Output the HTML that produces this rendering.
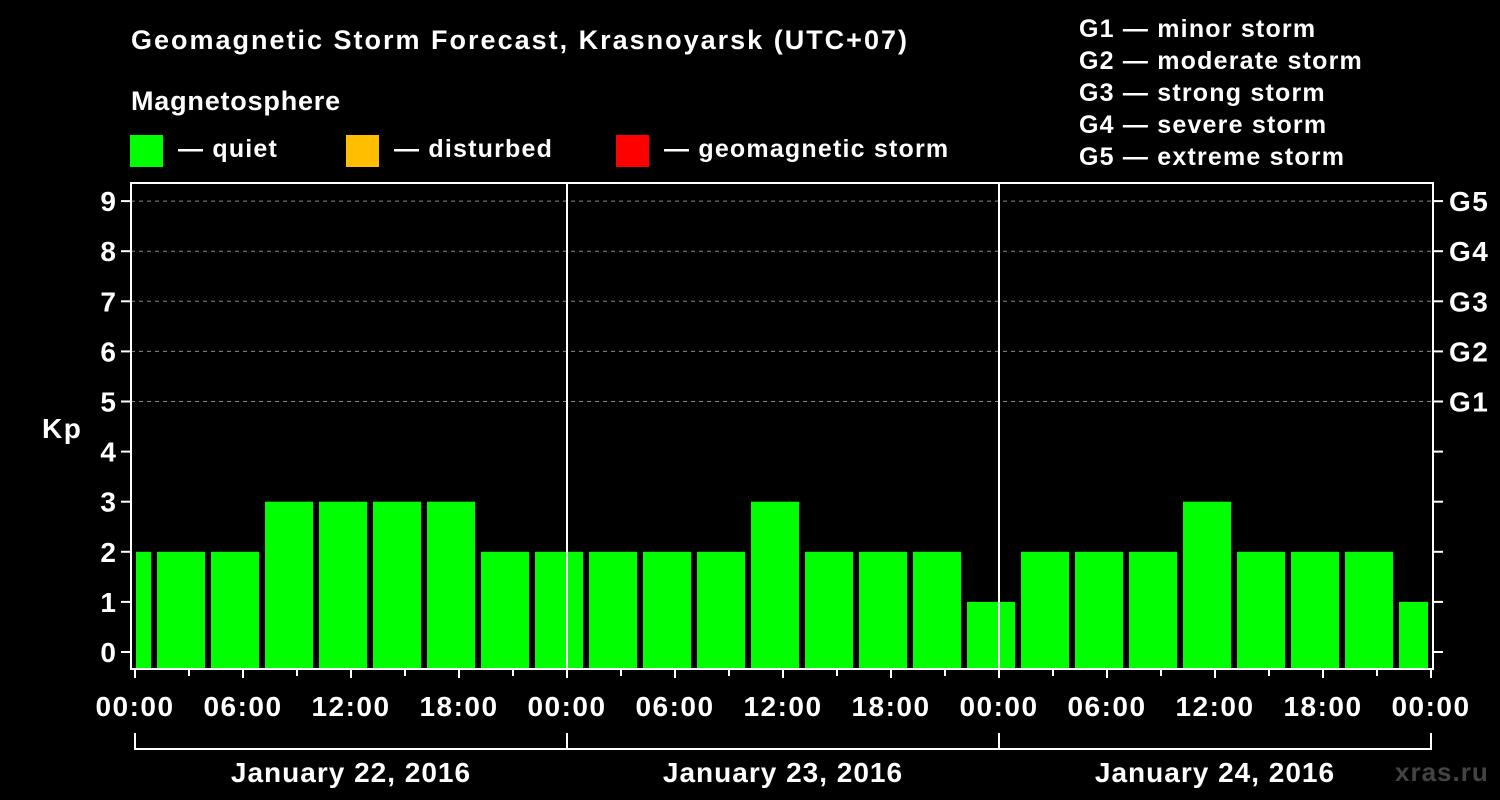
<!DOCTYPE html>
<html><head><meta charset="utf-8"><style>
html,body{margin:0;padding:0;background:#000;}
svg{display:block;font-family:"Liberation Sans",Arial,sans-serif;font-weight:bold;}
</style></head><body>
<svg id="chart" width="1500" height="800" viewBox="0 0 1500 800">
<rect x="0" y="0" width="1500" height="800" fill="#000"/>
<text x="131" y="49" fill="#fff" font-size="27" letter-spacing="2">Geomagnetic Storm Forecast, Krasnoyarsk (UTC+07)</text>
<text x="131" y="110" fill="#fff" font-size="27" letter-spacing="0.8">Magnetosphere</text>
<g><rect x="130" y="135" width="33" height="32" fill="#00ff00"/><text x="178" y="157" fill="#fff" font-size="25" letter-spacing="1.2">— quiet</text></g>
<g><rect x="346" y="135" width="33" height="32" fill="#ffbf00"/><text x="394" y="157" fill="#fff" font-size="25" letter-spacing="1.2">— disturbed</text></g>
<g><rect x="616" y="135" width="33" height="32" fill="#ff0000"/><text x="664" y="157" fill="#fff" font-size="25" letter-spacing="1.2">— geomagnetic storm</text></g>
<g fill="#fff" font-size="25" letter-spacing="1.2">
<text x="1079" y="37">G1 — minor storm</text>
<text x="1079" y="69">G2 — moderate storm</text>
<text x="1079" y="101">G3 — strong storm</text>
<text x="1079" y="133">G4 — severe storm</text>
<text x="1079" y="165">G5 — extreme storm</text>
</g>
<g id="grid"></g>
<g id="bars"></g>
<g id="axes"></g>
<text x="1395" y="781" fill="#444" font-size="26" letter-spacing="1">xras.ru</text>
</svg>
<script>
const kpValues = [2,2,2,3,3,3,3,2,2,2,2,2,3,2,2,2,1,2,2,2,3,2,2,2,1];
const yTicks = [0,1,2,3,4,5,6,7,8,9];
const gLabels = ["G1","G2","G3","G4","G5"];
const gLevels = [5,6,7,8,9];
const xTickLabels = ["00:00","06:00","12:00","18:00","00:00","06:00","12:00","18:00","00:00","06:00","12:00","18:00","00:00"];
const dayLabels = ["January 22, 2016","January 23, 2016","January 24, 2016"];

const NS="http://www.w3.org/2000/svg";
const L=131,R=1433,T=183,B=669,X0=135,PX_H=18;
const y=v=>652-v*50.1;
const x=h=>X0+h*PX_H;
function mk(tag,attrs,parent,txt){const e=document.createElementNS(NS,tag);for(const k in attrs)e.setAttribute(k,attrs[k]);if(txt!==undefined)e.textContent=txt;parent.appendChild(e);return e;}
const grid=document.getElementById('grid'),bars=document.getElementById('bars'),axes=document.getElementById('axes');

gLevels.forEach((g,i)=>{
  const gl=mk('line',{x1:L,x2:R,y1:y(g),y2:y(g),stroke:'#888','stroke-dasharray':'4,4','stroke-width':1},grid);
  
  
  const t=mk('text',{x:1449,y:y(g)+10,fill:'#fff','font-size':28,'letter-spacing':1.5},axes,gLabels[i]);
  
  
});
const defs=mk('defs',{},bars);const cp=mk('clipPath',{id:'pc'},defs);mk('rect',{x:L+5,y:T,width:R-L-10,height:B-T},cp);
const bg=mk('g',{'clip-path':'url(#pc)'},bars);
kpValues.forEach((v,i)=>{
  const h0=-1.778+3*i;
  const col=v>=5?'#ff0000':(v>=4?'#ffbf00':'#00ff00');
  const r=mk('rect',{x:x(h0),y:y(v),width:48,height:B-1-y(v),fill:col},bg);
  
  
});
[1,2].forEach(d=>{const l=mk('line',{x1:x(24*d),x2:x(24*d),y1:T,y2:B,stroke:'#fff','stroke-width':2},axes);
  
  });
const fr=mk('rect',{x:L,y:T,width:R-L,height:B-T,fill:'none',stroke:'#fff','stroke-width':2},axes);


yTicks.forEach(v=>{
  mk('line',{x1:121,x2:L,y1:y(v),y2:y(v),stroke:'#fff','stroke-width':2},axes);
  mk('line',{x1:R,x2:R+10,y1:y(v),y2:y(v),stroke:'#fff','stroke-width':2},axes);
  const t=mk('text',{x:116,y:y(v)+10,fill:'#fff','font-size':28,'text-anchor':'end'},axes,String(v));
  
  
});
const kp=mk('text',{x:42,y:438,fill:'#fff','font-size':28,'letter-spacing':1.5},axes,'Kp');


for(let h=0;h<=72;h+=3){
  const major=h%6===0;
  mk('line',{x1:x(h),x2:x(h),y1:B,y2:B+(major?9:7),stroke:'#fff','stroke-width':2},axes);
}
xTickLabels.forEach((s,i)=>{
  const t=mk('text',{x:x(6*i),y:716,fill:'#fff','font-size':28,'letter-spacing':1.5,'text-anchor':'middle'},axes,s);
  
  
});
mk('path',{d:`M${x(0)} 733V749H${x(72)}V733`,fill:'none',stroke:'#fff','stroke-width':2},axes);
[1,2].forEach(d=>mk('line',{x1:x(24*d),x2:x(24*d),y1:733,y2:749,stroke:'#fff','stroke-width':2},axes));
dayLabels.forEach((s,i)=>{
  const t=mk('text',{x:x(24*i+12),y:782,fill:'#fff','font-size':28,'letter-spacing':1,'text-anchor':'middle'},axes,s);
  
  
});
</script>
</body></html>
